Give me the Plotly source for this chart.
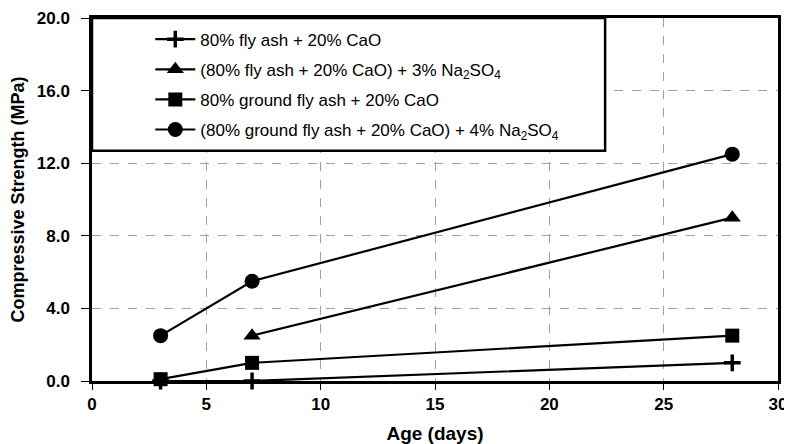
import plotly.graph_objects as go

# Age (days) and compressive strength (MPa) for each mix
age_fa = [3, 7, 28]
strength_fa = [0.0, 0.0, 1.0]

age_fa_ss = [7, 28]
strength_fa_ss = [2.5, 9.0]

age_gfa = [3, 7, 28]
strength_gfa = [0.1, 1.0, 2.5]

age_gfa_ss = [3, 7, 28]
strength_gfa_ss = [2.5, 5.5, 12.5]

labels = [
    "80% fly ash + 20% CaO",
    "(80% fly ash + 20% CaO) + 3% Na<sub>2</sub>SO<sub>4</sub>",
    "80% ground fly ash + 20% CaO",
    "(80% ground fly ash + 20% CaO) + 4% Na<sub>2</sub>SO<sub>4</sub>",
]

series = [
    (age_fa, strength_fa, "cross-thin", 12),
    (age_fa_ss, strength_fa_ss, "triangle-up", 15),
    (age_gfa, strength_gfa, "square", 14),
    (age_gfa_ss, strength_gfa_ss, "circle", 15),
]

fig = go.Figure()

for i, (x, y, sym, size) in enumerate(series):
    fig.add_trace(go.Scatter(
        x=x, y=y,
        mode="lines+markers",
        name=labels[i],
        legendgroup=f"g{i}",
        line=dict(color="black", width=2.2),
        marker=dict(symbol=sym, size=size, color="black",
                    line=dict(color="black", width=3.5 if sym == "cross-thin" else 0)),
        cliponaxis=False,
    ))

# legend frame (box is wider than the entries in the original)
fig.add_shape(
    type="rect", xref="paper", yref="paper",
    x0=0.0, x1=0.748, y0=0.634, y1=1.0,
    line=dict(color="black", width=2.5), fillcolor="white", layer="above",
)

bold_font = dict(family="Liberation Sans, Arial", color="black", weight="bold")

# page body adds an 8px offset, so the figure is 8px smaller than the window
fig.update_layout(
    width=784, height=436,
    margin=dict(l=84, r=14, t=10, b=63),
    paper_bgcolor="white",
    plot_bgcolor="white",
    font=dict(family="Liberation Sans, Arial", color="black"),
    showlegend=True,
    legend=dict(
        x=0.085, y=0.99, xanchor="left", yanchor="top",
        bgcolor="rgba(0,0,0,0)",
        borderwidth=0,
        font=dict(size=17, family="Liberation Sans, Arial", color="black"),
        traceorder="grouped",
        tracegroupgap=5,
        itemwidth=40,
    ),
)

fig.update_xaxes(
    range=[0, 30], dtick=5, tick0=0,
    showgrid=True, gridcolor="#a0a0a0", griddash="dash", gridwidth=1,
    showline=True, linecolor="black", linewidth=2.5, mirror=True,
    ticks="outside", ticklen=6, tickcolor="black",
    tickfont=dict(bold_font, size=17), ticklabeloverflow="allow",
    zeroline=False, automargin=False,
    title=dict(text="Age (days)", font=dict(bold_font, size=19), standoff=16),
)

fig.update_yaxes(
    range=[0, 20], dtick=4, tick0=0, tickformat=".1f",
    showgrid=True, gridcolor="#a0a0a0", griddash="dash", gridwidth=1,
    showline=True, linecolor="black", linewidth=2.5, mirror=True,
    ticks="outside", ticklen=8, tickcolor="black", ticklabelstandoff=8,
    tickfont=dict(bold_font, size=17), ticklabeloverflow="allow",
    zeroline=False, automargin=False,
    title=dict(text="Compressive Strength (MPa)", font=dict(bold_font, size=18), standoff=12),
)

fig.write_html("out.html")
